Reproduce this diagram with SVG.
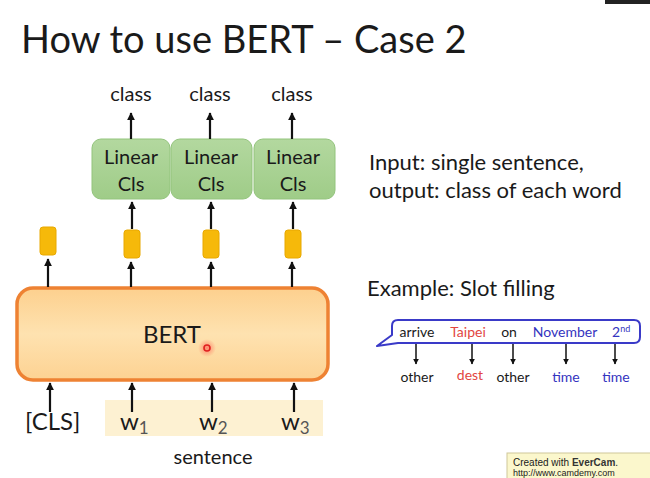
<svg xmlns="http://www.w3.org/2000/svg" width="650" height="478" viewBox="0 0 650 478">
<style>
text{font-family:Lato,"Open Sans","Liberation Sans",sans-serif;fill:#1a1a1a}
.t20{font-size:20px}
.t22{font-size:22px}
.mid{text-anchor:middle}
.s12{font-size:14px}
.red{fill:#e2463f}
.blue{fill:#3434c0}
.arr{stroke:#111;stroke-width:2.2;fill:none;marker-end:url(#ah)}
.arr2{stroke:#111;stroke-width:1.5;fill:none;marker-end:url(#ah2)}
.lin{fill:url(#gg);stroke:#93c47d;stroke-width:1}
.tok{fill:#f6b90a;stroke:#e8a800;stroke-width:1}
</style>
<defs>
<marker id="ah" viewBox="0 0 10 10" refX="9" refY="5" markerWidth="3.6" markerHeight="3.6" orient="auto" markerUnits="strokeWidth"><path d="M0,0 L10,5 L0,10 z" fill="#111"/></marker>
<marker id="ah2" viewBox="0 0 10 10" refX="9" refY="5" markerWidth="4" markerHeight="4" orient="auto" markerUnits="strokeWidth"><path d="M0,0 L10,5 L0,10 z" fill="#111"/></marker>
<linearGradient id="gg" x1="0" y1="0" x2="0" y2="1"><stop offset="0" stop-color="#b3d89f"/><stop offset="1" stop-color="#9fcc88"/></linearGradient>
<linearGradient id="og" x1="0" y1="0" x2="0" y2="1"><stop offset="0" stop-color="#fdd08e"/><stop offset="0.5" stop-color="#fee2b0"/><stop offset="1" stop-color="#fdd292"/></linearGradient>
<radialGradient id="glow"><stop offset="0" stop-color="#ff3030" stop-opacity="0.5"/><stop offset="1" stop-color="#ff3030" stop-opacity="0"/></radialGradient>
</defs>
<rect width="650" height="478" fill="#ffffff"/>
<rect x="605" y="0" width="45" height="4" fill="#222"/>

<text x="21" y="53" style="font-size:38px" fill="#111">How to use BERT – Case 2</text>

<g id="class-labels">
<text class="t20 mid" x="131" y="101">class</text>
<text class="t20 mid" x="210" y="101">class</text>
<text class="t20 mid" x="292" y="101">class</text>
</g>

<g id="linear1"><rect class="lin" x="92" y="139" width="78" height="60" rx="9"/><text class="t20 mid" x="131" y="164">Linear</text><text class="t20 mid" x="131" y="191">Cls</text></g>
<g id="linear2"><rect class="lin" x="171" y="139" width="81" height="60" rx="9"/><text class="t20 mid" x="211" y="164">Linear</text><text class="t20 mid" x="211" y="191">Cls</text></g>
<g id="linear3"><rect class="lin" x="254" y="139" width="81" height="60" rx="9"/><text class="t20 mid" x="293" y="164">Linear</text><text class="t20 mid" x="293" y="191">Cls</text></g>

<g id="tokens">
<rect class="tok" x="40" y="227" width="16" height="28" rx="3"/>
<rect class="tok" x="124" y="230" width="16" height="28" rx="3"/>
<rect class="tok" x="203" y="230" width="16" height="28" rx="3"/>
<rect class="tok" x="285" y="230" width="16" height="28" rx="3"/>
</g>

<g id="bert">
<rect x="17" y="288" width="311" height="92" rx="16" fill="url(#og)" stroke="#ee8233" stroke-width="3.5"/>
<text x="172" y="343" class="mid" style="font-size:24px">BERT</text>
<circle cx="207" cy="348" r="9" fill="url(#glow)"/>
<circle cx="207" cy="348" r="3" fill="none" stroke="#e02020" stroke-width="1.6"/>
</g>

<g id="inputs">
<rect x="105" y="400" width="218" height="36" fill="#fdf1d2"/>
<text x="25" y="430" style="font-size:24px">[CLS]</text>
<text x="120" y="430" style="font-size:24px">w<tspan dy="4" style="font-size:17px" fill="#555">1</tspan></text>
<text x="199" y="430" style="font-size:24px">w<tspan dy="4" style="font-size:17px" fill="#555">2</tspan></text>
<text x="281" y="430" style="font-size:24px">w<tspan dy="4" style="font-size:17px" fill="#555">3</tspan></text>
<text class="t20 mid" x="213" y="464">sentence</text>
</g>

<g id="connectors">
<line class="arr" x1="131" y1="139" x2="131" y2="113"/>
<line class="arr" x1="210" y1="139" x2="210" y2="113"/>
<line class="arr" x1="292" y1="139" x2="292" y2="113"/>
<line class="arr" x1="132" y1="229" x2="132" y2="202"/>
<line class="arr" x1="211" y1="229" x2="211" y2="202"/>
<line class="arr" x1="293" y1="229" x2="293" y2="202"/>
<line class="arr" x1="48" y1="287" x2="48" y2="259"/>
<line class="arr" x1="131" y1="287" x2="131" y2="262"/>
<line class="arr" x1="211" y1="287" x2="211" y2="262"/>
<line class="arr" x1="292" y1="287" x2="292" y2="262"/>
<line class="arr" x1="50" y1="412" x2="50" y2="383"/>
<line class="arr" x1="132" y1="412" x2="132" y2="383"/>
<line class="arr" x1="212" y1="412" x2="212" y2="383"/>
<line class="arr" x1="294" y1="412" x2="294" y2="383"/>
<line class="arr2" x1="416" y1="344" x2="416" y2="364"/>
<line class="arr2" x1="472" y1="344" x2="472" y2="364"/>
<line class="arr2" x1="513" y1="344" x2="513" y2="364"/>
<line class="arr2" x1="566" y1="344" x2="566" y2="364"/>
<line class="arr2" x1="615" y1="344" x2="615" y2="364"/>
</g>

<g id="desc">
<text class="t22" x="369" y="170">Input: single sentence,</text>
<text class="t22" x="369" y="198">output: class of each word</text>
<text class="t22" x="367" y="296">Example: Slot filling</text>
</g>

<g id="slot">
<path d="M398,320 H634 Q640,320 640,326 V337 Q640,343 634,343 H398 L377,346 L392,335 V326 Q392,320 398,320 Z" fill="#fff" stroke="#3a3ac8" stroke-width="2" stroke-linejoin="round"/>
<text class="s12 mid" x="417" y="337">arrive</text>
<text class="s12 mid red" x="468" y="337">Taipei</text>
<text class="s12 mid" x="509" y="337">on</text>
<text class="s12 mid blue" x="565" y="337">November</text>
<text class="s12 blue" x="612" y="337">2<tspan dy="-5" style="font-size:9px">nd</tspan></text>
<text class="s12 mid" x="417" y="382">other</text>
<text class="s12 mid red" x="470" y="380">dest</text>
<text class="s12 mid" x="513" y="382">other</text>
<text class="s12 mid blue" x="566" y="382">time</text>
<text class="s12 mid blue" x="616" y="382">time</text>
</g>

<g id="watermark">
<rect x="507" y="453" width="150" height="30" fill="#fbf7cc" stroke="#cfc79a" stroke-width="1"/>
<text x="513" y="466" style="font-size:10px;font-family:'Liberation Sans',sans-serif" fill="#555">Created with <tspan font-weight="bold" fill="#333">EverCam</tspan>.</text>
<text x="513" y="476" style="font-size:9px;font-family:'Liberation Sans',sans-serif" fill="#777">http://www.camdemy.com</text>
</g>
</svg>
